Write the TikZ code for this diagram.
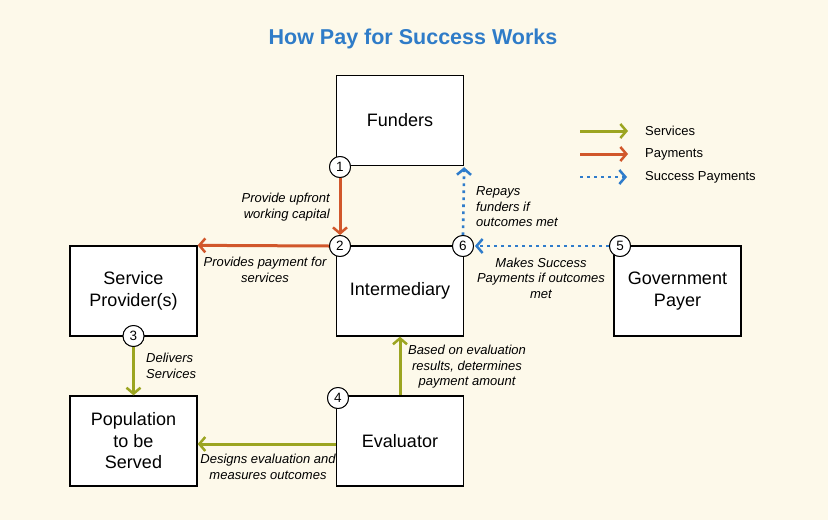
\documentclass[tikz,border=0pt]{standalone}
\usepackage{fontspec}
\setmainfont{Liberation Sans}
\usetikzlibrary{arrows.meta}
\definecolor{bg}{HTML}{FDF9EA}
\definecolor{svc}{HTML}{9CA521}
\definecolor{pay}{HTML}{D1572B}
\definecolor{succ}{HTML}{2F7CCB}
\definecolor{ttl}{HTML}{2F7CC8}
\begin{document}
\begin{tikzpicture}[x=1pt,y=-1pt,
 box/.style={draw=black, fill=white, line width=1.3pt, minimum width=127pt, minimum height=90pt, inner sep=0pt, font=\fontsize{18}{21.5}\selectfont, align=center},
 num/.style={circle, draw=black, fill=white, line width=0.9pt, minimum size=21pt, inner sep=0pt, font=\fontsize{13.5}{14}\selectfont},
 lbl/.style={font=\fontsize{13}{15.5}\selectfont\itshape, inner sep=0pt},
 leg/.style={font=\fontsize{13}{14}\selectfont, inner sep=0pt, anchor=west},
 svcarrow/.style={draw=svc, line width=3pt, -{Straight Barb[length=6pt,width=14pt,line width=2.5pt]}},
 payarrow/.style={draw=pay, line width=3pt, -{Straight Barb[length=6pt,width=14pt,line width=2.5pt]}},
 succarrow/.style={draw=succ, line width=2.6pt, dash pattern=on 2.6pt off 4.4pt, -{Straight Barb[length=6pt,width=14pt,line width=2.5pt,sep=1pt]}},
]
\fill[bg] (0,0) rectangle (828,520);
\useasboundingbox (0,0) rectangle (828,520);

\node[font=\fontsize{21.5}{24}\selectfont\bfseries, text=ttl] (title) at (413,39) {How Pay for Success Works};

\node[box] (fund) at (400,120.5) {Funders};
\node[box] (int) at (400,291) {Intermediary};
\node[box] (sp) at (133.5,291) {Service\\Provider(s)};
\node[box] (gov) at (677.5,291) {Government\\Payer};
\node[box] (pop) at (133.5,441) {Population\\to be\\Served};
\node[box] (eval) at (400,441) {Evaluator};

% number markers
\node[num] (n1) at (340,167) {1};
\node[num] (n2) at (340,246) {2};
\node[num] (n6) at (463,246) {6};
\node[num] (n5) at (620,246) {5};
\node[num] (n3) at (133.5,336) {3};
\node[num] (n4) at (338,398) {4};

\draw[payarrow] (n1.south) -- (n2.north);
\draw[payarrow] (n2.west) -- (sp.north east);
\draw[svcarrow] (n3.south) -- (pop.north);
\draw[svcarrow] (eval.north) -- (int.south);
\draw[svcarrow] ([yshift=-3pt]eval.west) -- ([yshift=-3pt]pop.east);
\draw[succarrow] (n5.west) -- (n6.east);
\draw[succarrow] (n6.north) -- (fund.south east);

% redraw number circles on top
\node[num] at (n1) {1};
\node[num] at (n2) {2};
\node[num] at (n6) {6};
\node[num] at (n5) {5};
\node[num] at (n3) {3};
\node[num] at (n4) {4};

% labels
\node[lbl, anchor=east, align=right] (l1) at (330,207) {Provide upfront\\working capital};
\node[lbl, align=center] (l2) at (265,270) {Provides payment for\\services};
\node[lbl, anchor=west, align=left] (l6) at (476,207) {Repays\\funders if\\outcomes met};
\node[lbl, align=center] (l5) at (541,278) {Makes Success\\Payments if outcomes\\met};
\node[lbl, anchor=west, align=left] (l3) at (146,366) {Delivers\\Services};
\node[lbl, align=center] (l4) at (467,367) {Based on evaluation\\results, determines\\payment amount};
\node[lbl, align=center] (l7) at (268,467) {Designs evaluation and\\measures outcomes};

% legend
\coordinate (a1) at (580,131); \coordinate (b1) at (628,131);
\coordinate (a2) at (580,154); \coordinate (b2) at (628,154);
\coordinate (a3) at (580,177); \coordinate (b3) at (628,177);
\draw[svcarrow] (a1) -- (b1);
\draw[payarrow] (a2) -- (b2);
\draw[succarrow] (a3) -- (b3);
\node[leg] (t1) at (645,131) {Services};
\node[leg] (t2) at (645,154) {Payments};
\node[leg] (t3) at (645,177) {Success Payments};
\end{tikzpicture}
\end{document}
